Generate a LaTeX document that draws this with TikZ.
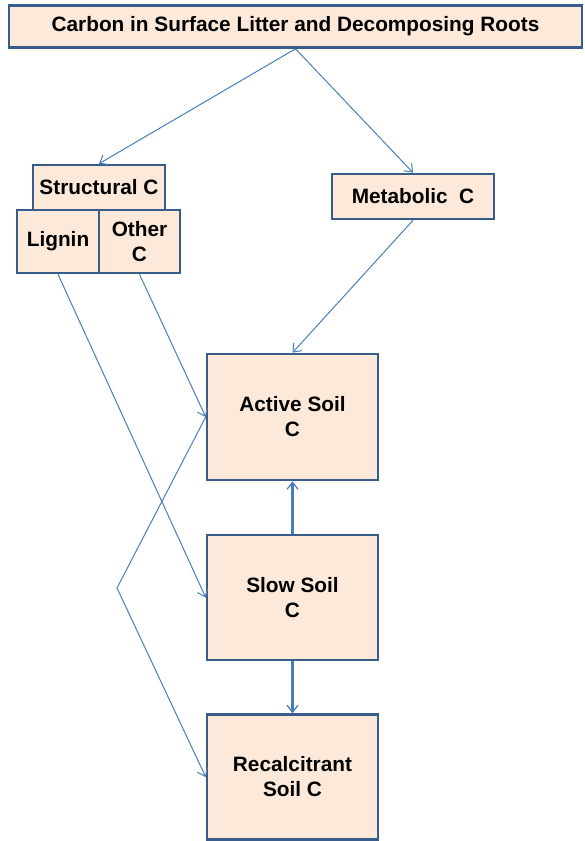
\documentclass[tikz,border=0pt]{standalone}
\usepackage{fontspec}
\setmainfont{Liberation Sans}
\usetikzlibrary{arrows.meta}
\definecolor{boxline}{RGB}{56,93,138}
\definecolor{boxfill}{RGB}{253,233,217}
\definecolor{flow}{RGB}{74,126,187}
\tikzset{
  pool/.style={draw=boxline, fill=boxfill, line width=2.6pt, inner sep=0pt,
    align=center, font=\fontsize{20.8}{25}\selectfont\bfseries},
  flowline/.style={draw=flow, line width=1pt,
    -{Straight Barb[length=7pt,width=11pt,line width=1pt]}},
  flowthick/.style={draw=flow, line width=2.6pt,
    -{Straight Barb[length=7pt,width=11pt,line width=1.2pt]}}
}
\begin{document}
\begin{tikzpicture}[x=1pt,y=-1pt]
\useasboundingbox (0,0) rectangle (584,841);
% litter pools
\node[pool, minimum width=573pt, minimum height=42pt] (top) at (295.5,26.5)
  {Carbon in Surface Litter and Decomposing Roots};
\node[pool, minimum width=132pt, minimum height=45pt] (struct) at (99,187.5) {Structural C};
\node[pool, minimum width=82pt, minimum height=63pt] (lignin) at (58,241.5) {Lignin};
\node[pool, minimum width=81pt, minimum height=63pt] (other) at (139.5,241.5) {Other\\C};
\node[pool, minimum width=162pt, minimum height=45pt] (metab) at (413,196.5) {Metabolic\ \ C};
% soil pools
\node[pool, minimum width=171pt, minimum height=126pt] (active) at (292.5,417) {Active Soil\\C};
\node[pool, minimum width=171pt, minimum height=125pt] (slow) at (292.5,597.5) {Slow Soil\\C};
\node[pool, minimum width=171pt, minimum height=125pt] (recal) at (292.5,777) {Recalcitrant\\Soil C};
\coordinate (bend) at (117,588);
% carbon flows
\draw[flowline] (top.south) -- (struct.north);
\draw[flowline] (top.south) -- (metab.north);
\draw[flowline] (metab.south) -- (active.north);
\draw[flowline] (other.south) -- (active.west);
\draw[flowline] (lignin.south) -- (slow.west);
\draw[flowline] (active.west) -- (bend) -- (recal.west);
\draw[flowthick] (slow.north) -- (active.south);
\draw[flowthick] (slow.south) -- (recal.north);
\end{tikzpicture}
\end{document}
